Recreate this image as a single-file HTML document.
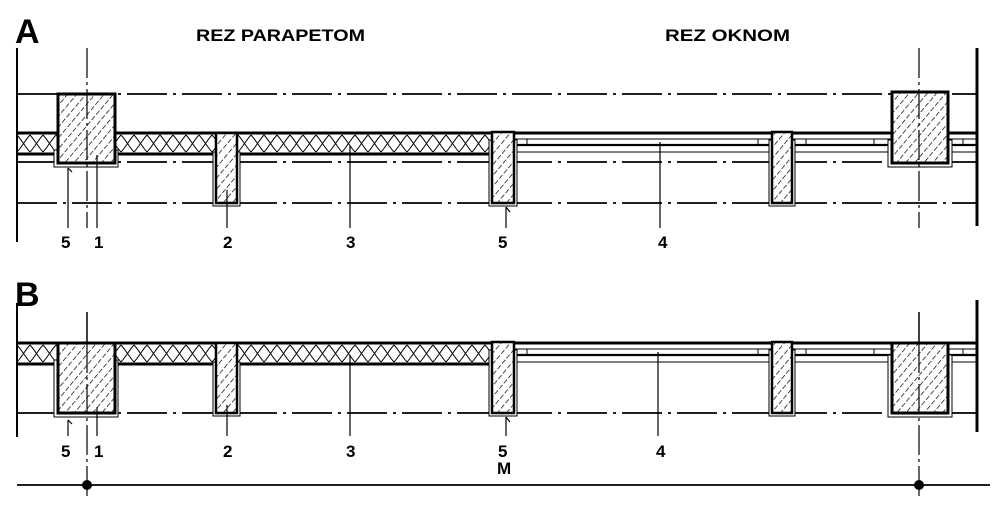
<!DOCTYPE html>
<html><head><meta charset="utf-8"><style>
html,body{margin:0;padding:0;background:#fff;}
svg{display:block}
text{font-family:"Liberation Sans",Arial,sans-serif;font-weight:bold;fill:#000}
</style></head><body>
<svg width="1000" height="507" viewBox="0 0 1000 507" xmlns="http://www.w3.org/2000/svg">
<defs>
<pattern id="h" width="7" height="7" patternUnits="userSpaceOnUse" patternTransform="rotate(40)">
<line x1="0" y1="0" x2="0" y2="7" stroke="#000" stroke-width="1.4" stroke-dasharray="5 2"/>
</pattern>
<pattern id="ins" width="13" height="21" patternUnits="userSpaceOnUse" x="17" y="133">
<path d="M0,2 C4,6 9,15 13,19 M13,2 C9,6 4,15 0,19" fill="none" stroke="#000" stroke-width="1"/>
</pattern>
<g id="sec">
<rect x="17" y="133" width="475" height="21" fill="url(#ins)"/>
<line x1="17" y1="133" x2="977" y2="133" stroke="#000" stroke-width="3"/>
<line x1="17" y1="154" x2="58" y2="154" stroke="#000" stroke-width="3"/>
<line x1="115" y1="154" x2="216" y2="154" stroke="#000" stroke-width="3"/>
<line x1="237" y1="154" x2="492" y2="154" stroke="#000" stroke-width="3"/>
<line x1="514" y1="139" x2="977" y2="139" stroke="#000" stroke-width="1"/>
<line x1="514" y1="145" x2="977" y2="145" stroke="#000" stroke-width="2.2"/>
<line x1="517" y1="152" x2="977" y2="152" stroke="#000" stroke-width="1"/>
<line x1="527" y1="139" x2="527" y2="145" stroke="#000" stroke-width="1"/>
<line x1="758" y1="139" x2="758" y2="145" stroke="#000" stroke-width="1"/>
<line x1="806" y1="139" x2="806" y2="145" stroke="#000" stroke-width="1"/>
<line x1="874" y1="139" x2="874" y2="145" stroke="#000" stroke-width="1"/>
<line x1="963" y1="139" x2="963" y2="145" stroke="#000" stroke-width="1"/>
<rect x="213" y="152" width="27" height="54" fill="#fff" stroke="#000" stroke-width="1"/>
<rect x="489" y="140" width="28" height="66" fill="#fff" stroke="#000" stroke-width="1"/>
<rect x="769" y="140" width="26" height="66" fill="#fff" stroke="#000" stroke-width="1"/>
<rect x="216" y="133" width="21" height="70" fill="#fff"/>
<rect x="216" y="133" width="21" height="70" fill="url(#h)" stroke="#000" stroke-width="2.5"/>
<rect x="492" y="132" width="22" height="71" fill="#fff"/>
<rect x="492" y="132" width="22" height="71" fill="url(#h)" stroke="#000" stroke-width="2.5"/>
<rect x="772" y="132" width="20" height="71" fill="#fff"/>
<rect x="772" y="132" width="20" height="71" fill="url(#h)" stroke="#000" stroke-width="2.5"/>
</g>
</defs>

<text x="15" y="43" font-size="34">A</text>
<text x="15" y="306" font-size="34">B</text>
<text x="196" y="41" font-size="17" textLength="169" lengthAdjust="spacingAndGlyphs">REZ PARAPETOM</text>
<text x="665" y="41" font-size="17" textLength="125" lengthAdjust="spacingAndGlyphs">REZ OKNOM</text>

<line x1="17" y1="48" x2="17" y2="242" stroke="#000" stroke-width="2"/>
<line x1="977" y1="48" x2="977" y2="226" stroke="#000" stroke-width="3"/>
<g stroke="#000" stroke-width="1.8" stroke-dasharray="40 6 3 6">
<line x1="17" y1="94" x2="977" y2="94"/>
<line x1="17" y1="162" x2="977" y2="162"/>
<line x1="17" y1="203" x2="977" y2="203"/>
</g>
<use href="#sec"/>
<rect x="54" y="150" width="64" height="17" fill="#fff" stroke="#000" stroke-width="1"/>
<rect x="58" y="94" width="57" height="69" fill="#fff"/>
<rect x="58" y="94" width="57" height="69" fill="url(#h)" stroke="#000" stroke-width="3"/>
<rect x="888" y="140" width="64" height="27" fill="#fff" stroke="#000" stroke-width="1"/>
<rect x="892" y="92" width="56" height="71" fill="#fff"/>
<rect x="892" y="92" width="56" height="71" fill="url(#h)" stroke="#000" stroke-width="3"/>
<g stroke="#000" stroke-width="1.2" stroke-dasharray="30 4 3 4">
<line x1="87" y1="48" x2="87" y2="228"/>
<line x1="919" y1="48" x2="919" y2="228"/>
</g>
<g stroke="#000" stroke-width="1.2">
<line x1="68" y1="168" x2="68" y2="228"/><line x1="68" y1="168" x2="72" y2="172"/>
<line x1="97" y1="155" x2="97" y2="228"/>
<line x1="227" y1="190" x2="227" y2="228"/>
<line x1="350" y1="146" x2="350" y2="228"/>
<line x1="506" y1="207" x2="506" y2="228"/><line x1="506" y1="207" x2="510" y2="212"/>
<line x1="660" y1="142" x2="660" y2="228"/>
</g>
<g font-size="17">
<text x="61" y="248">5</text><text x="94" y="248">1</text><text x="223" y="248">2</text>
<text x="346" y="248">3</text><text x="498" y="248">5</text><text x="658" y="248">4</text>
</g>

<line x1="17" y1="303" x2="17" y2="437" stroke="#000" stroke-width="2"/>
<line x1="977" y1="300" x2="977" y2="432" stroke="#000" stroke-width="3"/>
<g stroke="#000" stroke-width="1.8" stroke-dasharray="40 6 3 6">
<line x1="17" y1="413" x2="977" y2="413"/>
</g>
<use href="#sec" transform="translate(0,210)"/>
<rect x="54" y="360" width="64" height="57" fill="#fff" stroke="#000" stroke-width="1"/>
<rect x="58" y="343" width="57" height="70" fill="#fff"/>
<rect x="58" y="343" width="57" height="70" fill="url(#h)" stroke="#000" stroke-width="3"/>
<rect x="888" y="355" width="64" height="62" fill="#fff" stroke="#000" stroke-width="1"/>
<rect x="892" y="343" width="56" height="70" fill="#fff"/>
<rect x="892" y="343" width="56" height="70" fill="url(#h)" stroke="#000" stroke-width="3"/>
<line x1="87" y1="312" x2="87" y2="343" stroke="#000" stroke-width="1.5"/>
<line x1="919" y1="312" x2="919" y2="343" stroke="#000" stroke-width="1.5"/>
<g stroke="#000" stroke-width="1.2" stroke-dasharray="30 4 3 4">
<line x1="87" y1="343" x2="87" y2="500"/>
<line x1="919" y1="343" x2="919" y2="500"/>
</g>
<g stroke="#000" stroke-width="1.2">
<line x1="68" y1="420" x2="68" y2="436"/><line x1="68" y1="420" x2="72" y2="424"/>
<line x1="97" y1="407" x2="97" y2="436"/>
<line x1="227" y1="405" x2="227" y2="436"/>
<line x1="350" y1="355" x2="350" y2="436"/>
<line x1="506" y1="417" x2="506" y2="436"/><line x1="506" y1="417" x2="510" y2="422"/>
<line x1="658" y1="352" x2="658" y2="436"/>
</g>
<g font-size="17">
<text x="61" y="457">5</text><text x="94" y="457">1</text><text x="223" y="457">2</text>
<text x="346" y="457">3</text><text x="498" y="457">5</text><text x="656" y="457">4</text>
<text x="497" y="474">M</text>
</g>
<line x1="17" y1="485" x2="990" y2="485" stroke="#000" stroke-width="1.8"/>
<circle cx="87" cy="485" r="5" fill="#000"/>
<circle cx="919" cy="485" r="5" fill="#000"/>
</svg>
</body></html>
